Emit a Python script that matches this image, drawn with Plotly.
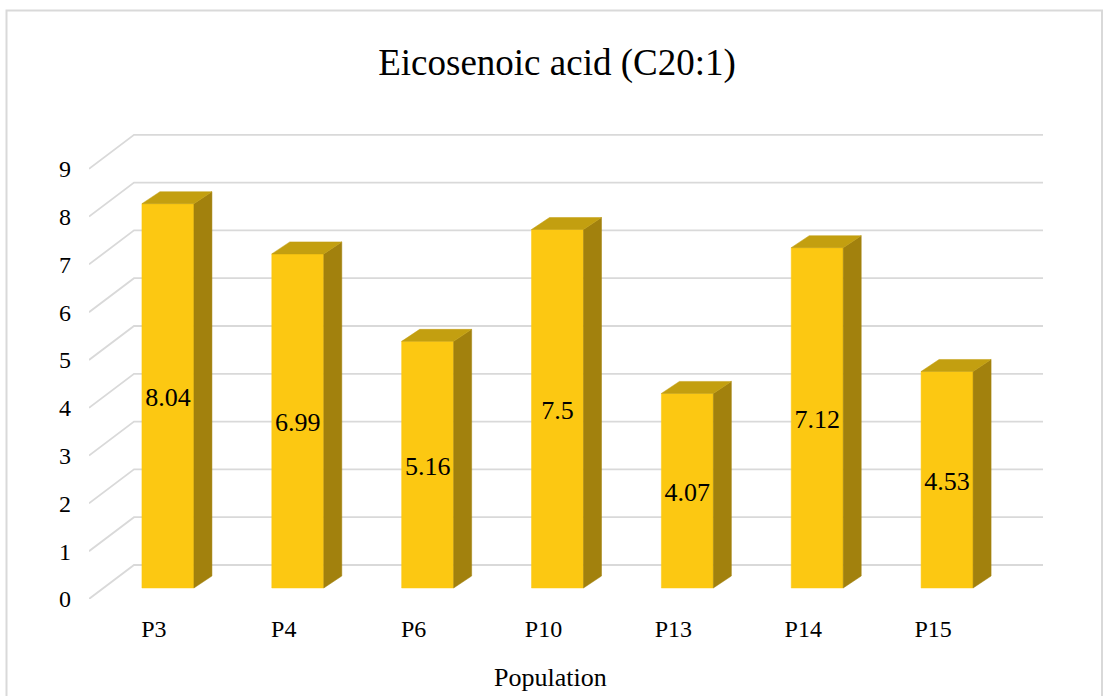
import plotly.graph_objects as go

# Data
categories = ["P3", "P4", "P6", "P10", "P13", "P14", "P15"]
values = [8.04, 6.99, 5.16, 7.5, 4.07, 7.12, 4.53]
y_ticks = list(range(0, 10))

# Styling
FRONT = "#FCC812"
TOP = "#C39F10"
SIDE = "#A2810D"
GRID = "#D9D9D9"
FONT = "Liberation Serif, Times New Roman, serif"

# Canvas and plot area (pixels)
W, H = 1108, 696
ML, MR, MT, MB = 89, 65, 100, 97
PX_X = 129.86   # pixels per category band
PX_Y = 47.8     # pixels per value unit
plot_w = W - ML - MR
plot_h = H - MT - MB
x_range = [-0.5, -0.5 + plot_w / PX_X]
y_range = [0, plot_h / PX_Y]

# Pseudo-3D offsets, expressed in axis units
wall_dx, wall_dy = 45 / PX_X, 34 / PX_Y     # floor depth (front edge -> back wall)
bar_off_x, bar_off_y = 14 / PX_X, 11 / PX_Y  # bar front face sits inside the floor
bar_dx, bar_dy = 18 / PX_X, 12 / PX_Y        # bar depth
bar_w = 52 / PX_X
label_drop = 4 / PX_Y                        # value labels sit slightly below centre

fig = go.Figure()

# Gridlines: diagonal on the side wall, horizontal on the back wall
gx, gy = [], []
for g in y_ticks:
    gx += [-0.5, -0.5 + wall_dx, x_range[1], None]
    gy += [g, g + wall_dy, g + wall_dy, None]
fig.add_trace(go.Scatter(x=gx, y=gy, mode="lines",
                         line=dict(color=GRID, width=1.8),
                         hoverinfo="skip", showlegend=False))

# Column faces (front, side, top) built from the values
bar_x = [i + bar_off_x for i in range(len(categories))]
fx, fy, sx, sy, tx, ty = [], [], [], [], [], []
for xc, v in zip(bar_x, values):
    x0, x1 = xc - bar_w / 2, xc + bar_w / 2
    b, t = bar_off_y, bar_off_y + v
    fx += [x0, x1, x1, x0, x0, None]
    fy += [b, b, t, t, b, None]
    sx += [x1, x1 + bar_dx, x1 + bar_dx, x1, x1, None]
    sy += [b, b + bar_dy, t + bar_dy, t, b, None]
    tx += [x0, x1, x1 + bar_dx, x0 + bar_dx, x0, None]
    ty += [t, t, t + bar_dy, t + bar_dy, t, None]
for xs, ys, col in ((fx, fy, FRONT), (sx, sy, SIDE), (tx, ty, TOP)):
    fig.add_trace(go.Scatter(x=xs, y=ys, mode="lines", fill="toself",
                             fillcolor=col, line=dict(width=0.5, color=col),
                             hoverinfo="skip", showlegend=False))

# Value labels on the front faces
fig.add_trace(go.Scatter(
    x=bar_x, y=[bar_off_y + v / 2 - label_drop for v in values], mode="text",
    text=[str(v) for v in values], textposition="middle center",
    textfont=dict(family=FONT, size=26, color="black"),
    hoverinfo="skip", showlegend=False,
))

fig.update_layout(
    width=W, height=H, autosize=False,
    margin=dict(l=ML, r=MR, t=MT, b=MB, pad=0),
    paper_bgcolor="white", plot_bgcolor="white",
    font=dict(family=FONT, color="black", size=24),
    title=dict(text="Eicosenoic acid (C20:1)", font=dict(family=FONT, size=37, color="black"),
               xref="container", yref="container", x=557 / W, y=1 - 62 / H,
               xanchor="center", yanchor="middle"),
    xaxis=dict(range=x_range, tickvals=list(range(len(categories))), ticktext=categories,
               showgrid=False, zeroline=False, showline=False, ticks="",
               ticklabelstandoff=13, tickfont=dict(size=24), fixedrange=True),
    yaxis=dict(range=y_range, tickvals=y_ticks, showgrid=False, zeroline=False,
               showline=False, ticks="", ticklabelstandoff=17,
               tickfont=dict(size=24), fixedrange=True),
    annotations=[dict(text="Population", xref="paper", yref="paper",
                      x=(550 - ML) / plot_w, y=-(677 - (H - MB)) / plot_h,
                      xanchor="center", yanchor="middle", showarrow=False,
                      font=dict(family=FONT, size=26, color="black"))],
    shapes=[dict(type="rect", xref="paper", yref="paper", layer="below",
                 x0=(6.5 - ML) / plot_w, x1=(1102 - ML) / plot_w,
                 y0=-(702 - (H - MB)) / plot_h, y1=((H - MB) - 10.5) / plot_h,
                 line=dict(color=GRID, width=2), fillcolor="rgba(0,0,0,0)")],
)

fig.write_html("out.html")
